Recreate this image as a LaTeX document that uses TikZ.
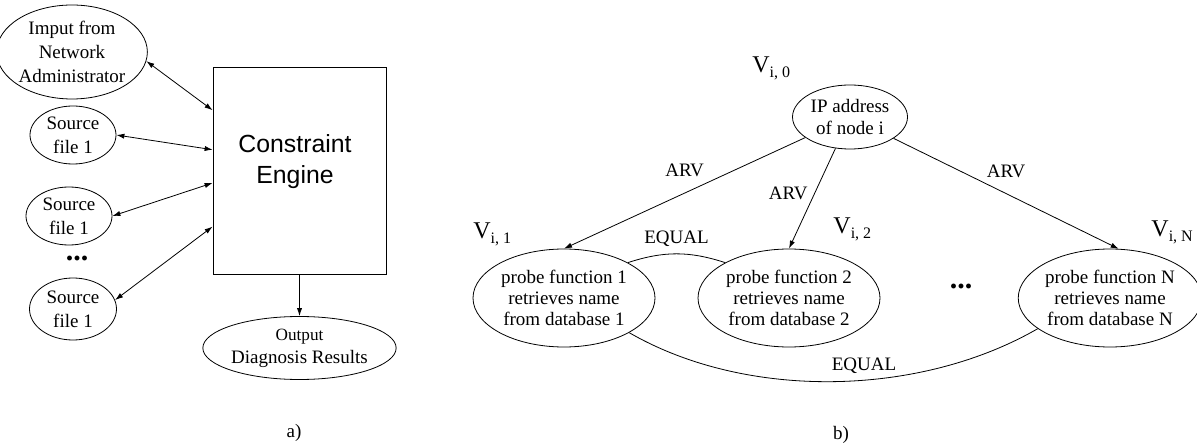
\documentclass[tikz,border=0pt]{standalone}
\usepackage{fontspec}
\setmainfont{Liberation Serif}
\newfontfamily\enginefont{Liberation Sans}
\usepackage{tikz}
\usetikzlibrary{calc}
\usetikzlibrary{shapes.geometric}
\usetikzlibrary{arrows.meta}
\newcommand{\vname}[1]{{\fontsize{12}{14}\selectfont V}{\fontsize{8}{9}\selectfont\raisebox{-2.5pt}{#1}}}

\begin{document}
\begin{tikzpicture}[x=0.5pt,y=-0.5pt,
        >={Latex[length=4pt,width=2.6pt]},
        every node/.style={font=\fontsize{9.5}{12}\selectfont},
        oval/.style={ellipse,draw,inner sep=0pt,align=center},
        pfoval/.style={oval,minimum width=91pt,minimum height=49pt,font=\fontsize{9.5}{10.5}\selectfont},
        dotsnode/.style={font=\fontsize{15}{15}\selectfont\bfseries}]
            \useasboundingbox (0,0) rectangle (1197,448);

            % a) 左側の図
            \node[oval,minimum width=67pt,minimum height=47pt] (admin) at (72,52) {Imput from\\Network\\Administrator};
            \node[oval,minimum width=43pt,minimum height=29pt] (srca) at (73,135) {Source\\file 1};
            \node[oval,minimum width=43pt,minimum height=29pt] (srcb) at (69,216) {Source\\file 1};
            \node[dotsnode] (dotsa) at (77,258) {...};
            \node[oval,minimum width=43.5pt,minimum height=31pt] (srcc) at (73,309) {Source\\file 1};

            \node[draw,minimum width=86.5pt,minimum height=103.5pt] (engine) at (299.5,170.5) {};
            \node[font=\enginefont\fontsize{12.4}{15.5}\selectfont,align=center] (engtext) at (295,162) {Constraint\\Engine};
            \node[oval,minimum width=82pt,minimum height=31.5pt,font=\fontsize{9.5}{11.5}\selectfont] (out) at (299.5,348) {{\fontsize{8.6}{11}\selectfont Output}\\Diagnosis Results};

            % 箱の左辺の点
            \coordinate (ea) at ($(engine.north west)!0.21!(engine.south west)$);
            \coordinate (eb) at ($(engine.north west)!0.40!(engine.south west)$);
            \coordinate (ec) at ($(engine.north west)!0.56!(engine.south west)$);
            \coordinate (ed) at ($(engine.north west)!0.77!(engine.south west)$);

            \draw[<->] (admin.-7)--(ea);
            \draw[<->] (srca.east)--(eb);
            \draw[<->] (srcb.east)--(ec);
            \draw[<->] (srcc.12)--(ed);
            \draw[->] (engine.south)--(out.north);

            \node (capa) at (294,433) {a)};

            % b) 右側の図
            \node[oval,minimum width=57.5pt,minimum height=32pt,font=\fontsize{9.5}{11}\selectfont] (ip) at (850,117) {IP address\\of node i};
            \node[pfoval] (pfa) at (564,298) {probe function 1\\retrieves name\\from database 1};
            \node[pfoval] (pfb) at (789,298) {probe function 2\\retrieves name\\from database 2};
            \node[dotsnode] (dotsb) at (961,286) {...};
            \node[pfoval,minimum width=86pt] (pfn) at (1110,298) {probe function N\\retrieves name\\from database N};

            \node[anchor=base west,inner sep=0pt] (vzero) at (752,73) {\vname{i, 0}};
            \node[anchor=base west,inner sep=0pt] (vone) at (473,239) {\vname{i, 1}};
            \node[anchor=base west,inner sep=0pt] (vtwo) at (833,234) {\vname{i, 2}};
            \node[anchor=base west,inner sep=0pt] (vn) at (1151,237) {\vname{i, N}};

            \draw[->] (ip)--node[above=4.5pt]{ARV}(pfa.north);
            \draw[->] (ip)--node[pos=0.45,left]{ARV}(pfb.north);
            \draw[->] (ip)--node[above=4.5pt]{ARV}(pfn.80);

            \draw (pfa.29) to[bend left=18] node[above]{EQUAL} (pfb.151);
            \draw (pfa.-28) to[out=-30,in=-150,looseness=0.85] node[pos=0.57,above]{EQUAL} (pfn.-157);

            \node (capb) at (841,435) {b)};

        \end{tikzpicture}
\end{document}
